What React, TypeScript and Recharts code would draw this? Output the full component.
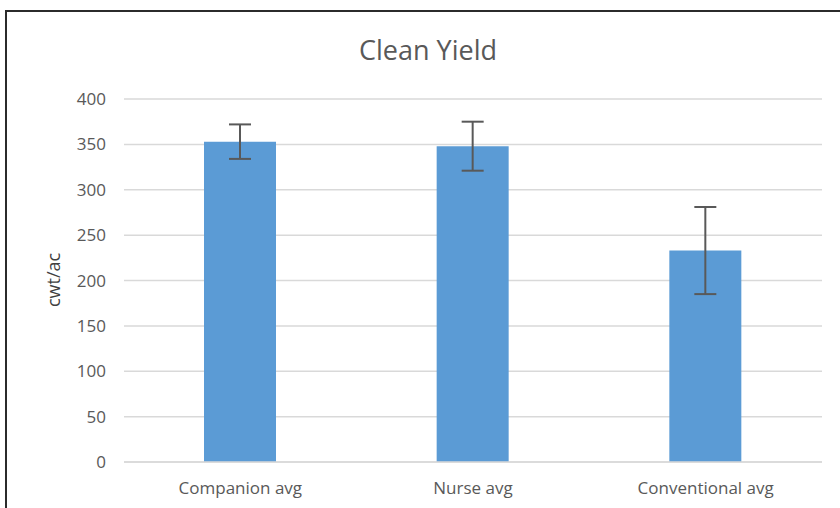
import { BarChart, Bar, XAxis, YAxis, CartesianGrid, ErrorBar } from 'recharts';

const categories = ['Companion avg', 'Nurse avg', 'Conventional avg'];
const yieldValues = [353, 348, 233];
const yieldErrors = [19, 27, 48];
const yTicks = [0, 50, 100, 150, 200, 250, 300, 350, 400];

const data = categories.map((name, i) => ({
  name,
  value: yieldValues[i],
  err: yieldErrors[i],
}));

const font = '"Open Sans", sans-serif';

export default function App() {
  return (
    <div
      style={{
        position: 'absolute',
        left: 0,
        top: 0,
        width: 840,
        height: 508,
        overflow: 'hidden',
        background: '#fff',
        fontFamily: font,
      }}
    >
      {/* frame of the chart area, runs off the right and bottom */}
      <div
        style={{
          position: 'absolute',
          left: 5,
          top: 10,
          width: 900,
          height: 560,
          border: '2px solid #2b2b2b',
          boxSizing: 'border-box',
        }}
      />
      <div
        style={{
          position: 'absolute',
          left: 328,
          width: 200,
          top: 32,
          textAlign: 'center',
          fontSize: 27,
          color: '#595959',
          lineHeight: '36px',
        }}
      >
        Clean Yield
      </div>
      <div
        style={{
          position: 'absolute',
          left: 53,
          top: 280,
          transform: 'translate(-50%, -50%) rotate(-90deg)',
          fontSize: 18,
          color: '#404040',
          whiteSpace: 'nowrap',
        }}
      >
        cwt/ac
      </div>
      <BarChart
        width={840}
        height={508}
        data={data}
        margin={{ top: 99, right: 18, bottom: 16, left: 0 }}
        barSize={72}
        style={{ position: 'absolute', left: 0, top: 0 }}
      >
        <CartesianGrid vertical={false} stroke="#d9d9d9" strokeWidth={1.5} />
        <XAxis
          dataKey="name"
          height={30}
          axisLine={{ stroke: '#d9d9d9', strokeWidth: 1.5 }}
          tickLine={false}
          tickMargin={14}
          tick={{ fontSize: 17, fill: '#595959', fontFamily: font }}
        />
        <YAxis
          width={124}
          domain={[0, 400]}
          ticks={yTicks}
          axisLine={false}
          tickLine={false}
          tickMargin={12}
          tick={{ fontSize: 17, fill: '#595959', fontFamily: font }}
        />
        <Bar dataKey="value" fill="#5b9bd5" isAnimationActive={false}>
          <ErrorBar dataKey="err" width={11} stroke="#595959" strokeWidth={2} />
        </Bar>
      </BarChart>
    </div>
  );
}
